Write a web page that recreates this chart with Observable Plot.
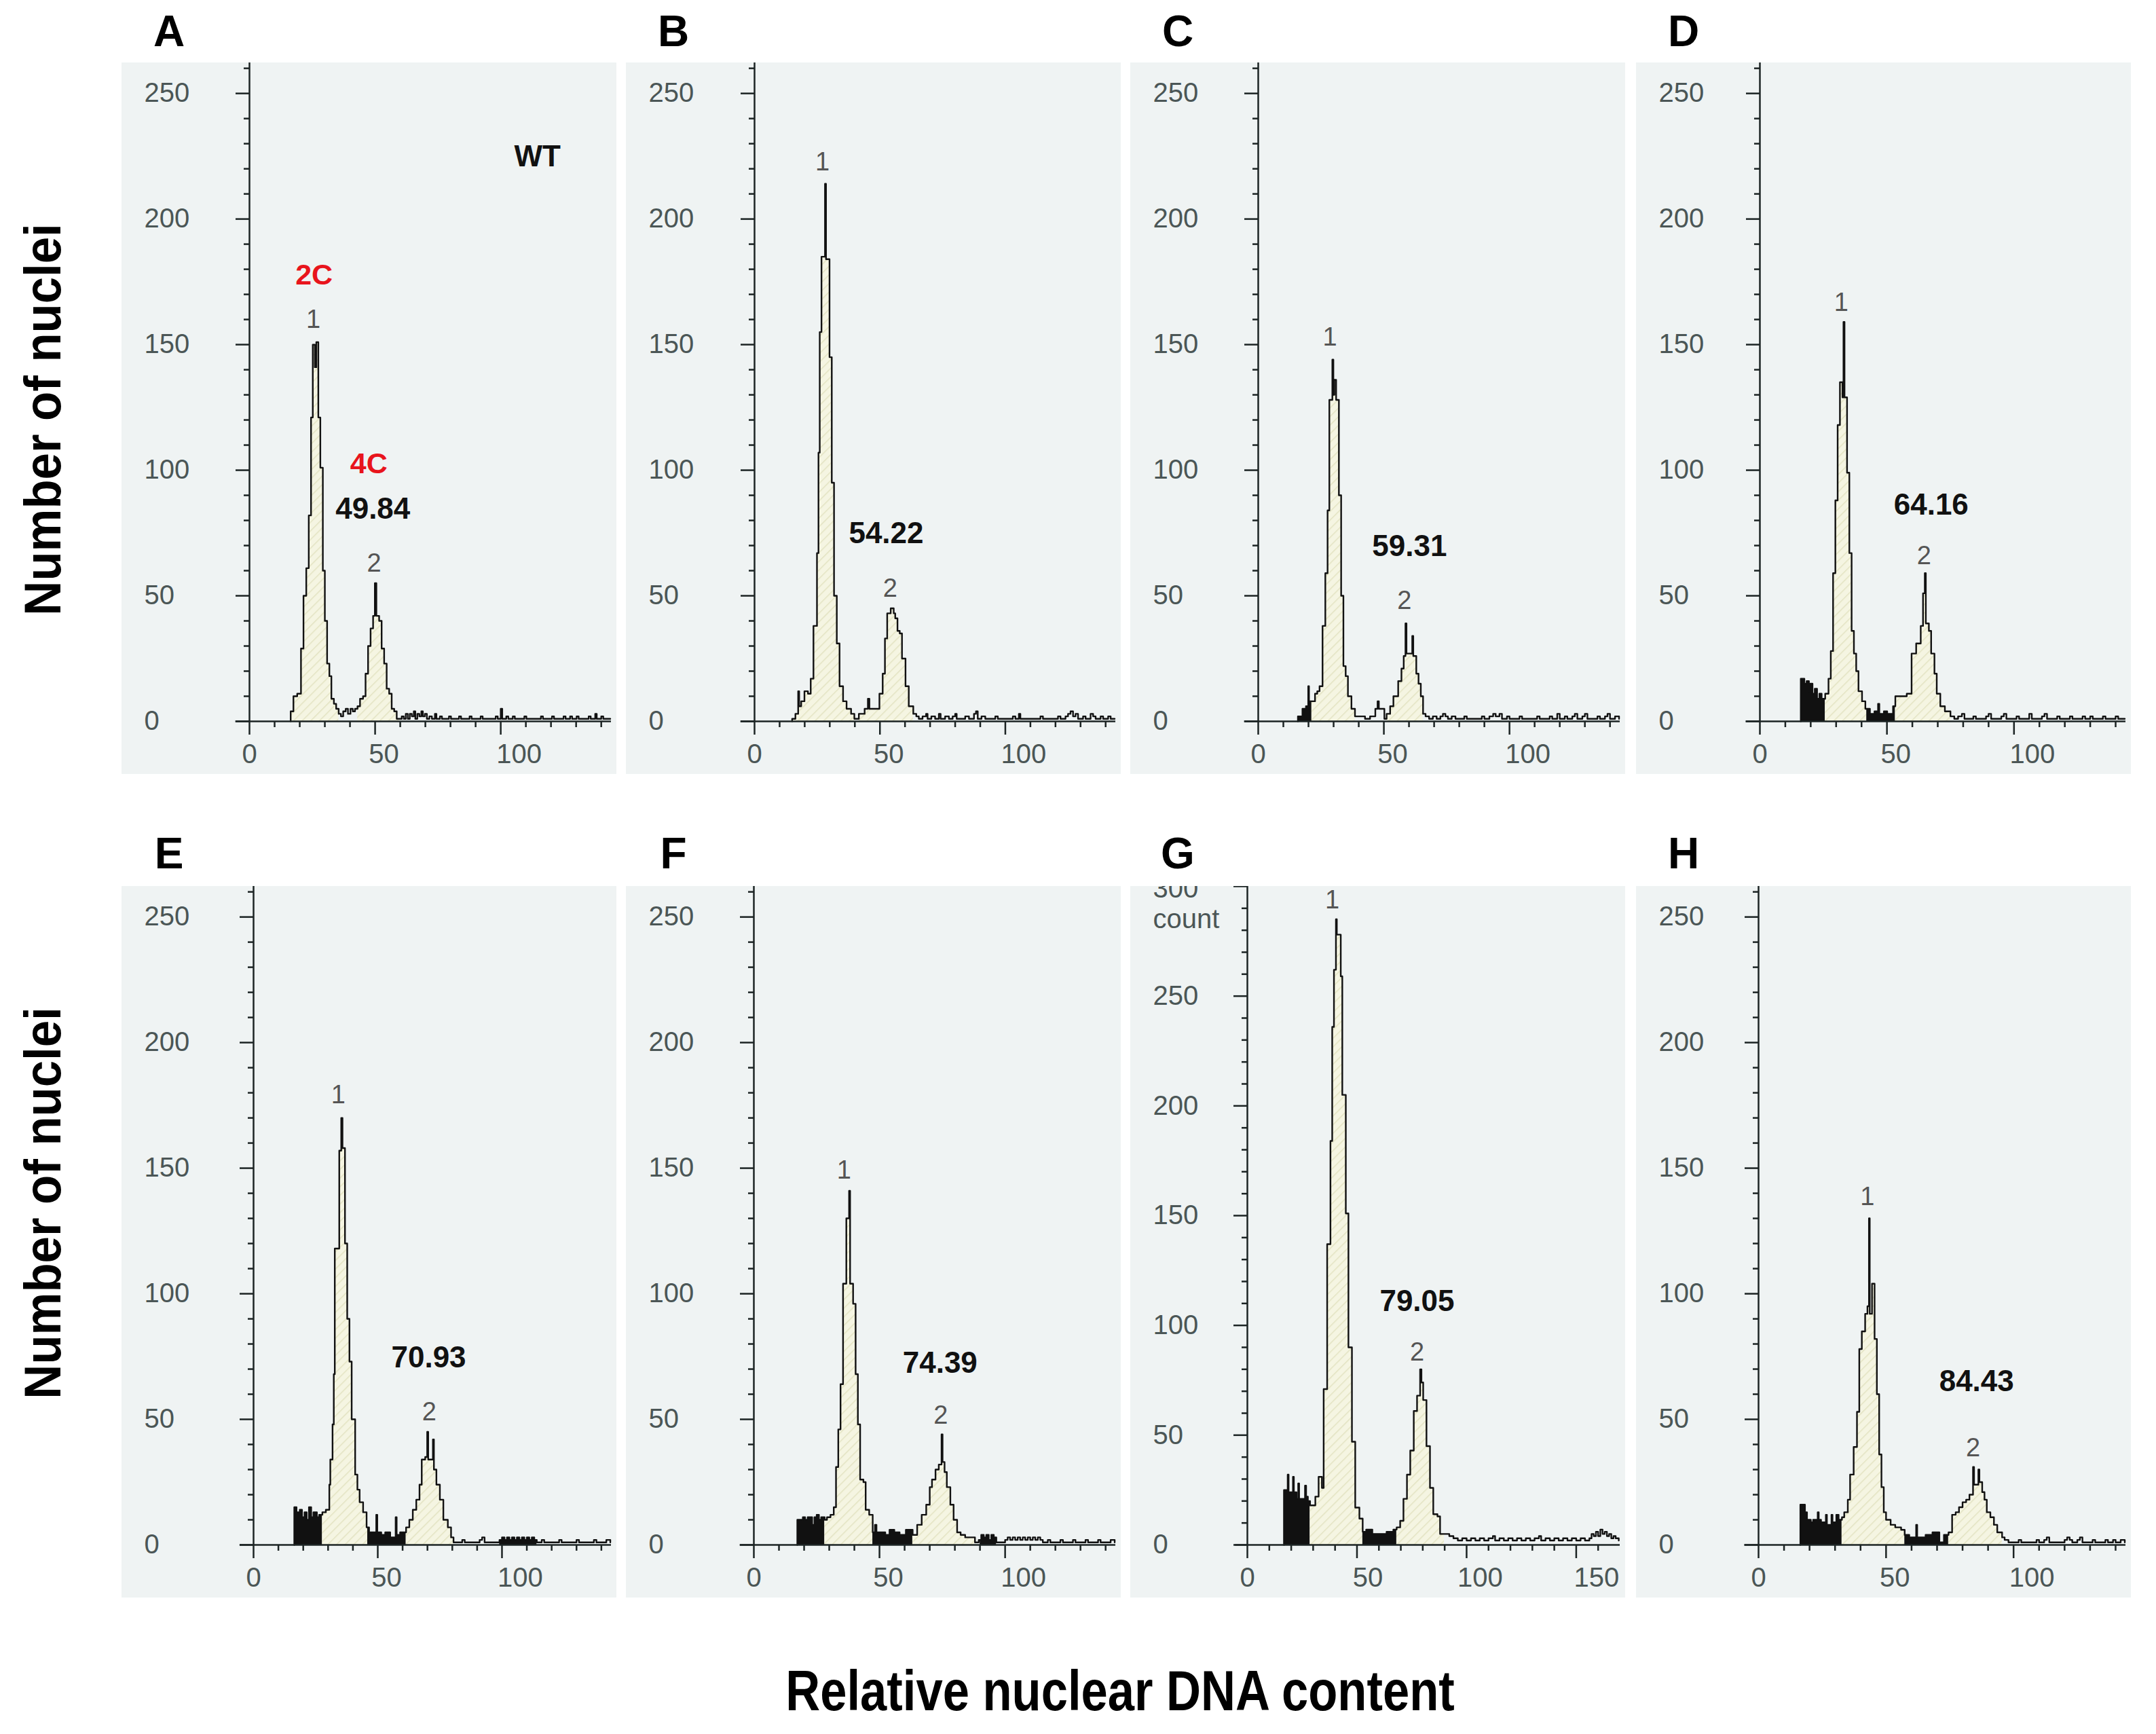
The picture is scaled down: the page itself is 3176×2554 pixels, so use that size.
<!DOCTYPE html>
<html>
<head>
<meta charset="utf-8">
<script src="https://cdn.jsdelivr.net/npm/d3@7"></script>
<script src="https://cdn.jsdelivr.net/npm/@observablehq/plot@0.6"></script>
<style>
  html, body { margin: 0; padding: 0; background: #fff; }
  #figure { position: relative; width: 3176px; height: 2554px; overflow: hidden; font-family: "Liberation Sans", Arial, sans-serif; color: #000; }
  .panel { position: absolute; }
  .letter { position: absolute; font-weight: bold; font-size: 64px; line-height: 1; transform: translate(-50%, -50%); }
  .ytitle { position: absolute; font-weight: bold; font-size: 76px; line-height: 1; white-space: nowrap; transform: translate(-50%, -50%) rotate(-90deg) scale(0.93, 1); }
  .xtitle { position: absolute; font-weight: bold; font-size: 84px; line-height: 1; white-space: nowrap; transform: translate(-50%, -50%) scale(0.84, 1); }
</style>
</head>
<body>
<svg width="0" height="0" style="position:absolute">
  <defs>
    <pattern id="hatch" width="9" height="9" patternUnits="userSpaceOnUse" patternTransform="rotate(45)">
      <rect width="9" height="9" fill="#f5f5e2"></rect>
      <line x1="0" y1="0" x2="0" y2="9" stroke="#e3e3c2" stroke-width="3"></line>
    </pattern>
  </defs>
</svg>
<div id="figure"></div>
<script>
// histogram steps: [relative DNA content, number of nuclei]
const histA = [[16.4,4],[17.5,10],[19,11],[20.5,29],[21.5,50],[22.6,61],[23.6,82],[24.5,121],[25.2,150],[26,141],[26.6,151],[27.4,121],[28.2,101],[29.2,60],[30,40],[30.9,23],[31.8,18],[32.6,9],[33.6,7],[34.5,5],[35.5,3],[36.4,2],[37.3,4],[38.3,5],[39.2,3],[40.2,5],[41.1,4],[42,5],[43,6],[44,9],[45.2,10],[46.2,19],[47.2,30],[48.2,37],[49.2,42],[49.9,55],[50.5,42],[51.6,40],[52.6,29],[53.6,23],[54.6,13],[55.6,11],[56.6,5],[57.6,4],[58.6,1],
  [59.6,1],[60.6,2],[61.4,1],[62.2,3],[63,1],[63.8,3],[64.6,2],[65.4,4],[66,1],[66.8,3],[67.6,2],[68.4,4],[69,2],[69.8,3],[70.6,1],[71.6,2],[72.6,1],[73.8,3],[74.4,1],[75.8,2],[76.6,1],[78,1],[79.4,2],[80.2,1],[82,1],[83.4,2],[84.2,1],[86,1],[87.6,2],[88.4,1],[90,1],[92,2],[92.8,1],[94.6,1],[96.4,1],[98,2],[98.8,1],[100,5],[100.6,1],[102.2,2],[103,1],[104.8,2],[105.6,1],[107.6,1],[109.4,2],[110.2,1],[112,1],[114,1],[116,2],[116.8,1],[118.6,1],[120.4,2],[121.2,1],[123,1],[125,2],[125.8,1],[127.6,2],[128.4,1],[130.2,2],[131,1],[133,1],[135,2],[135.8,1],[137.6,3],[138.2,1],[140,2],[140.8,1],[142.6,1],[143.6,1]];
const histB = [[15,1],[16.3,3],[17.4,12],[17.8,6],[18.6,8],[19.9,12],[21.3,11],[22.4,17],[23.5,38],[24.9,67],[25.5,107],[26,155],[26.7,185],[28.1,214],[28.5,184],[29.9,145],[30.8,95],[31.7,50],[32.8,31],[33.9,14],[35.3,8],[36.7,5],[38.5,3],[39.8,1],[41.6,3],[43.9,5],[45.2,9],[45.8,5],[48,5],[49.8,11],[51.1,19],[52,33],[52.9,43],[54.3,45],[55.5,43],[56.1,41],[57,36],[57.9,35],[58.8,25],[60.2,14],[61.5,6],[63.3,3],
  [64.5,2],[65.5,1],[67,2],[68.4,3],[69,1],[70.5,2],[72,1],[73.5,3],[74.2,1],[76,2],[77.5,1],[79,2],[80,3],[80.6,1],[82.4,1],[84,2],[85.5,1],[87.5,3],[88.3,4],[89,1],[90.5,2],[92,1],[94,1],[96,2],[97,1],[99,1],[101,1],[103,2],[104,1],[105.4,3],[106,1],[108,1],[110,1],[112,1],[114,2],[115,1],[117,1],[119,1],[121,2],[122,1],[124,2],[125,3],[126,4],[127,2],[128,3],[129,1],[131,2],[132,1],[134,3],[135,2],[136,1],[138,2],[139,1],[141,2],[142,1],[143.6,1]];
const histC = [[15.8,2],[17.6,5],[19,6],[19.9,14],[20.2,8],[21.3,8],[22.6,11],[23.5,12],[24.4,14],[25.6,38],[26.7,59],[27.6,84],[28.3,128],[29.5,144],[29.9,130],[30.3,136],[31,128],[32.1,90],[33,50],[33.9,22],[34.8,18],[35.7,10],[37.1,5],[38.5,2],[40.5,2],[42.5,1],[44.5,2],[46.6,5],[47.5,8],[48,5],[48.9,5],[50.2,1],[51.1,3],[52.5,6],[53.8,10],[55.7,16],[57,21],[57.9,26],[58.6,39],[59,27],[61.3,34],[61.7,26],[62.9,19],[63.8,15],[64.7,10],[65.6,3],
  [66.6,2],[68,1],[69.5,2],[71,1],[72.5,2],[73.5,3],[74.5,2],[75.5,1],[77,2],[78.5,1],[80,1],[82,2],[83,1],[85,1],[87,1],[89,2],[90,1],[92,2],[93.5,3],[94.5,2],[96,3],[97,1],[99,2],[100,1],[102,1],[104,2],[105,1],[107,1],[109,1],[111,2],[112,1],[114,1],[116,2],[117,1],[119,3],[120,1],[122,2],[123,1],[125,2],[126,3],[127,1],[129,2],[130,3],[131,1],[133,1],[135,2],[136,1],[138,2],[139,3],[140,1],[142,2],[143.6,1]];
const histD = [[16.1,17],[17.5,15],[18.4,16],[19.3,12],[19.8,15],[20.7,11],[21.6,13],[22.5,9],[23.4,11],[24.3,9],[25.7,11],[27,17],[27.9,28],[28.8,59],[29.7,88],[30.6,118],[31.5,135],[32.5,129],[32.9,159],[33.3,129],[34.3,99],[35.2,67],[36.1,36],[37,27],[37.9,20],[38.8,12],[40.2,8],[41.5,5],[43.3,3],[45.1,4],[46.5,7],[47,3],[48.8,4],[50.1,3],[52.4,6],[53.3,10],[56,10],[57.8,11],[59.7,27],[61.5,31],[63.3,38],[64.2,51],[64.9,59],[65.3,39],[66.5,36],[67.4,27],[68.7,19],[69.6,11],[71,6],[72.8,4],[75,2],
  [76.5,1],[78,2],[79.5,3],[80.5,1],[82,1],[84,2],[85,1],[87,1],[89,2],[90,3],[91,1],[93,1],[95,2],[96,3],[97,1],[99,1],[101,2],[102,1],[104,1],[106,3],[107,1],[109,1],[111,2],[112,3],[113,1],[115,1],[117,2],[118,1],[120,1],[122,2],[123,1],[125,1],[127,2],[128,1],[130,2],[131,1],[133,1],[135,2],[136,1],[138,1],[140,2],[141,1],[143.6,1]];
const histE = [[16.4,15],[17.3,13],[18.6,14],[19.5,11],[20.5,13],[21.4,10],[22.3,15],[23.2,11],[24.1,13],[25.5,11],[26.4,12],[27.7,13],[29.1,14],[30.5,24],[30.9,34],[31.8,48],[32.3,68],[32.7,118],[34.5,157],[35.3,170],[35.8,158],[36.8,120],[37.7,90],[38.6,73],[39.5,50],[40.9,28],[41.8,22],[42.7,17],[44.1,13],[45.5,7],[46.5,5],[49.4,12],[49.8,5],[51.4,4],[53,5],[55,3],[57.2,11],[57.6,4],[59,5],[61.4,7],[62.7,10],[64.1,14],[65.5,18],[66.8,24],[67.7,34],[69.1,35],[69.9,45],[70.3,34],[71.8,34],[72.2,42],[72.6,30],[73.6,24],[75,18],[76.4,10],[78.2,7],[79.5,3],
  [80.5,1],[82,1],[84,2],[85,1],[87,1],[89,1],[91,2],[92,3],[93,1],[95,1],[97,1],[99,2],[100,3],[101,2],[102,3],[103,2],[104,3],[105,2],[106,3],[107,2],[108,3],[109,2],[110,3],[111,2],[112,3],[113,2],[114,1],[116,2],[117,1],[119,1],[121,1],[123,2],[124,1],[126,1],[128,1],[130,2],[131,1],[133,1],[135,1],[137,2],[138,1],[140,1],[142,2],[143.6,1]];
const histF = [[17.3,10],[19.5,11],[20.4,10],[21.4,11],[23.2,8],[24.1,11],[25,12],[25.9,10],[26.8,11],[28.2,10],[29.1,11],[30.5,12],[31.8,15],[32.7,31],[33.6,46],[34.5,64],[35.5,104],[36.8,130],[37.9,141],[38.3,104],[39.5,96],[40.5,68],[41.4,48],[42.3,26],[43.6,25],[44.5,14],[45.9,12],[47.3,5],[48.2,8],[48.8,5],[50,5],[52.3,4],[54,6],[55.9,5],[58,4],[60.5,6],[63.2,4],[65,8],[66.8,12],[68.6,16],[70,23],[70.9,26],[72.3,30],[73.6,32],[74.7,44],[75.1,33],[75.9,29],[76.8,23],[78.2,16],[79.5,10],[80.9,5],[82.3,4],[84.1,3],[86.8,3],
  [88,1],[89.5,2],[90.5,4],[91.5,3],[92.5,4],[93.5,2],[94.5,4],[95.5,3],[96.5,1],[98,1],[100,2],[101,3],[102,2],[103,3],[104,2],[105,3],[106,2],[107,3],[108,2],[109,3],[110,2],[111,3],[112,2],[113,3],[114,2],[115,1],[117,2],[118,1],[120,1],[122,2],[123,1],[125,1],[127,2],[128,1],[130,1],[132,2],[133,1],[135,1],[137,2],[138,1],[140,1],[142,2],[143.6,1]];
const histG = [[16.7,25],[18.4,32],[18.8,24],[20.1,24],[20.8,31],[21.2,24],[22.4,21],[23.2,28],[23.6,21],[24.8,21],[26.3,27],[26.8,22],[27.6,20],[28.6,18],[31,22],[32.5,31],[34,26],[34.8,71],[36.4,137],[37.9,184],[38.7,236],[39.5,262],[40.4,285],[40.8,278],[42.1,278],[42.6,259],[43.3,205],[44.9,151],[46.1,90],[47.7,47],[49.2,17],[51.1,12],[52.6,6],[54.2,7],[57,5],[60.4,5],[63.5,6],[66.6,7],[68.1,8],[69.7,11],[71.2,21],[72.8,32],[74.3,43],[75.9,61],[77.4,68],[78.8,80],[79.4,74],[80.2,66],[81.7,45],[83.3,26],[84.8,14],[86.7,13],[87.9,5],[89.8,5],[92.1,4],
  [94,3],[96,2],[98,3],[100,2],[102,3],[104,2],[106,3],[108,2],[110,3],[112,4],[113,2],[115,3],[117,2],[119,3],[121,2],[123,3],[125,2],[127,3],[129,2],[131,3],[133,4],[134,2],[136,3],[138,2],[140,3],[142,2],[144,3],[146,2],[148,3],[150,2],[152,3],[154,2],[156,3],[157,5],[158,4],[159,6],[160,4],[161,7],[162,5],[163,6],[164,4],[165,5],[166,3],[167,4],[168,3],[169.4,2]];
const histH = [[16.4,16],[17.5,16],[18.2,13],[19,10],[20.5,9],[21.4,10],[23.2,13],[23.6,10],[24.5,9],[26.4,12],[26.8,8],[28.6,12],[29,9],[30.5,12],[31.4,10],[32.7,11],[33.6,13],[35,18],[35.9,28],[37.3,39],[38.6,53],[39.5,78],[40.5,85],[41.8,92],[42.7,95],[43.3,130],[43.6,92],[44.5,104],[45,104],[45.5,82],[46.4,60],[47.3,36],[48.2,23],[49.1,13],[50,10],[51.8,8],[53.6,7],[55.9,6],[57.3,4],[59.1,3],[61.8,8],[62.2,3],[65.5,4],[68.2,5],[70.9,1],[72.7,4],[74.5,5],[75.9,12],[77.3,13],[78.6,15],[80,17],[81.4,18],[82.7,20],[84.1,31],[84.5,24],[85,24],[86.2,30],[86.6,25],[87.7,21],[88.6,18],[89.5,13],[90.9,11],[92.3,8],[93.6,5],[95.5,3],
  [96.5,2],[98,1],[100,1],[102,2],[103,1],[105,1],[107,1],[109,2],[110,1],[112,2],[113,3],[114,1],[116,1],[118,1],[120,2],[121,3],[122,2],[123,1],[125,2],[126,3],[127,1],[129,1],[131,2],[132,1],[134,1],[136,2],[137,1],[139,2],[140,1],[142,2],[143.6,1]];

// gated ranges: [from, to, kind]
const fillsA = [[16.4,35.5,"peak"],[43,59.6,"peak"]];
const fillsB = [[15,40,"peak"],[41.6,63.3,"peak"]];
const fillsC = [[15.8,21.3,"debris"],[21.3,38.5,"peak"],[51.1,65.6,"peak"]];
const fillsD = [[16.1,25.7,"debris"],[25.7,42,"peak"],[42,53.3,"debris"],[53.3,75,"peak"]];
const fillsE = [[16.4,27.7,"debris"],[27.7,45.9,"peak"],[45.9,61.4,"debris"],[61.4,80.5,"peak"],[99,114,"debris"]];
const fillsF = [[17.3,28.2,"debris"],[28.2,47.3,"peak"],[47.3,63.2,"debris"],[63.2,88,"peak"],[90,96.5,"debris"]];
const fillsG = [[16.7,28.6,"debris"],[28.6,52.6,"peak"],[52.6,68.1,"debris"],[68.1,89.8,"peak"]];
const fillsH = [[16.4,32.7,"debris"],[32.7,57.3,"peak"],[57.3,74.5,"debris"],[74.5,95.5,"peak"]];

// annotations in data coordinates
const notesA = [{x:114.6,y:224.8,text:"WT",kind:"bold"},{x:25.7,y:177.7,text:"2C",kind:"red"},{x:25.4,y:160,text:"1",kind:"peak"},{x:47.5,y:102.5,text:"4C",kind:"red"},{x:49.1,y:84.4,text:"49.84",kind:"bold"},{x:49.6,y:63,text:"2",kind:"peak"}];
const notesB = [{x:27.1,y:222.7,text:"1",kind:"peak"},{x:52.5,y:74.7,text:"54.22",kind:"bold"},{x:54.1,y:53,text:"2",kind:"peak"}];
const notesC = [{x:28.5,y:152.8,text:"1",kind:"peak"},{x:60.2,y:69.6,text:"59.31",kind:"bold"},{x:58.2,y:48,text:"2",kind:"peak"}];
const notesD = [{x:32,y:166.7,text:"1",kind:"peak"},{x:67.4,y:86,text:"64.16",kind:"bold"},{x:64.6,y:66,text:"2",kind:"peak"}];
const notesE = [{x:34.1,y:179,text:"1",kind:"peak"},{x:70.5,y:74.4,text:"70.93",kind:"bold"},{x:70.7,y:52.8,text:"2",kind:"peak"}];
const notesF = [{x:35.9,y:149,text:"1",kind:"peak"},{x:74.1,y:72.3,text:"74.39",kind:"bold"},{x:74.4,y:51.5,text:"2",kind:"peak"}];
const notesG = [{x:38.7,y:293.6,text:"1",kind:"peak"},{x:77.4,y:111,text:"79.05",kind:"bold"},{x:77.4,y:87.7,text:"2",kind:"peak"}];
const notesH = [{x:42.7,y:138.7,text:"1",kind:"peak"},{x:85.5,y:65,text:"84.43",kind:"bold"},{x:84.1,y:38.7,text:"2",kind:"peak"}];

const yLabels = [0, 50, 100, 150, 200, 250];
const yLabelsG = [0, 50, 100, 150, 200, 250];
const yTopLabelG = [300];
const xLabels = [0, 50, 100];
const xLabelsG = [0, 50, 100, 150];

const panels = [
  {letter: "A", hist: histA, fills: fillsA, notes: notesA, ml: 188},
  {letter: "B", hist: histB, fills: fillsB, notes: notesB, ml: 189},
  {letter: "C", hist: histC, fills: fillsC, notes: notesC, ml: 188},
  {letter: "D", hist: histD, fills: fillsD, notes: notesD, ml: 182},
  {letter: "E", hist: histE, fills: fillsE, notes: notesE, ml: 194},
  {letter: "F", hist: histF, fills: fillsF, notes: notesF, ml: 188},
  {letter: "G", hist: histG, fills: fillsG, notes: notesG, ml: 172},
  {letter: "H", hist: histH, fills: fillsH, notes: notesH, ml: 180}
];

const colLeft = [179, 922, 1665, 2410];
const rowTop = [92, 1305];
const letterGap = [46, 48];
const W = 729, H = 1048, inner = 970;
const axisColor = "#1c2424", labelColor = "#4b5656";

// cut the step function down to [a, b]
function segment(hist, a, b) {
  const pts = hist.filter(d => d[0] >= a && d[0] < b);
  const before = hist.filter(d => d[0] < a).pop();
  if (before && (!pts.length || pts[0][0] > a)) pts.unshift([a, before[1]]);
  pts.push([b, pts[pts.length - 1][1]]);
  return pts;
}

function drawPanel(p) {
  const isG = p.letter === "G";
  const xMax = isG ? 170 : 144;
  const yMax = isG ? 300 : 262.2;
  const ml = p.ml;
  const labelsY = isG ? yLabelsG : yLabels;
  const labelsX = isG ? xLabelsG : xLabels;
  const shiftX = isG ? [0, 16, 20, 30] : [0, 13, 27];
  const font = {fontSize: 40, fill: labelColor, label: null};
  const majorY = isG ? [...yLabelsG, ...yTopLabelG] : yLabels;

  const marks = [];
  for (const [a, b, kind] of p.fills) {
    marks.push(Plot.areaY(segment(p.hist, a, b), {
      x: d => d[0], y: d => d[1], curve: "step-after",
      fill: kind === "debris" ? "#111" : "url(#hatch)"
    }));
  }
  marks.push(
    Plot.lineY([[p.hist[0][0], 0], ...p.hist], {x: d => d[0], y: d => d[1], curve: "step-after", stroke: "#111", strokeWidth: 2.4}),
    Plot.ruleX([0], {y1: 0, y2: yMax, stroke: axisColor, strokeWidth: 2.5}),
    Plot.ruleY([0], {x1: -5.5, x2: xMax, stroke: axisColor, strokeWidth: 2.5}),
    Plot.axisY(d3.range(0, yMax + 0.1, 10).filter(v => v % 50), {tickSize: 8, strokeWidth: 2.5, stroke: axisColor, fill: "none", label: null}),
    Plot.axisY(majorY, {tickSize: 20, strokeWidth: 2.5, stroke: axisColor, fill: "none", label: null}),
    Plot.axisY(labelsY, {...font, tickSize: 0, stroke: "none", tickPadding: ml - 33, textAnchor: "start"}),
    Plot.axisX(d3.range(0, xMax, 10).filter(v => v % 50), {tickSize: 9, strokeWidth: 2.5, stroke: axisColor, fill: "none", label: null}),
    Plot.axisX(labelsX, {tickSize: 20, strokeWidth: 2.5, stroke: axisColor, fill: "none", label: null}),
    ...labelsX.map((v, i) => Plot.axisX([v], {...font, tickSize: 0, stroke: "none", tickPadding: 33, dx: shiftX[i]})),
    Plot.text(p.notes.filter(d => d.kind === "peak"), {x: "x", y: "y", text: "text", fontSize: 38, fill: "#555"}),
    Plot.text(p.notes.filter(d => d.kind === "bold"), {x: "x", y: "y", text: "text", fontSize: 44, fontWeight: "bold", fill: "#111"}),
    Plot.text(p.notes.filter(d => d.kind === "red"), {x: "x", y: "y", text: "text", fontSize: 43, fontWeight: "bold", fill: "#e8141c"})
  );
  if (isG) {
    // the top label sits half outside the frame, as on the instrument print-out
    marks.push(
      Plot.axisY(yTopLabelG, {...font, tickSize: 0, stroke: "none", tickPadding: ml - 33, textAnchor: "start", dy: 4}),
      Plot.text(["count"], {x: 0, y: 285, text: d => d, dx: -(ml - 33), textAnchor: "start", fontSize: 40, fill: labelColor})
    );
  }

  return Plot.plot({
    width: W, height: H,
    marginLeft: ml, marginRight: 8, marginTop: 0, marginBottom: H - inner,
    x: {domain: [0, xMax], axis: null},
    y: {domain: [0, yMax], axis: null},
    style: {background: "#eff3f3", overflow: "hidden", fontFamily: "'Liberation Sans', Arial, sans-serif"},
    marks
  });
}

const fig = document.getElementById("figure");
panels.forEach((p, i) => {
  const col = i % 4, row = Math.floor(i / 4);
  const div = document.createElement("div");
  div.className = "panel";
  div.style.left = colLeft[col] + "px";
  div.style.top = rowTop[row] + "px";
  div.style.width = W + "px";
  div.style.height = H + "px";
  div.append(drawPanel(p));
  fig.append(div);

  const letter = document.createElement("div");
  letter.className = "letter";
  letter.textContent = p.letter;
  letter.style.left = (colLeft[col] + 70) + "px";
  letter.style.top = (rowTop[row] - letterGap[row]) + "px";
  fig.append(letter);
});

[618, 1772].forEach(y => {
  const t = document.createElement("div");
  t.className = "ytitle";
  t.textContent = "Number of nuclei";
  t.style.left = "63px";
  t.style.top = y + "px";
  fig.append(t);
});

const xt = document.createElement("div");
xt.className = "xtitle";
xt.textContent = "Relative nuclear DNA content";
xt.style.left = "1650px";
xt.style.top = "2490px";
fig.append(xt);
</script>
</body>
</html>
